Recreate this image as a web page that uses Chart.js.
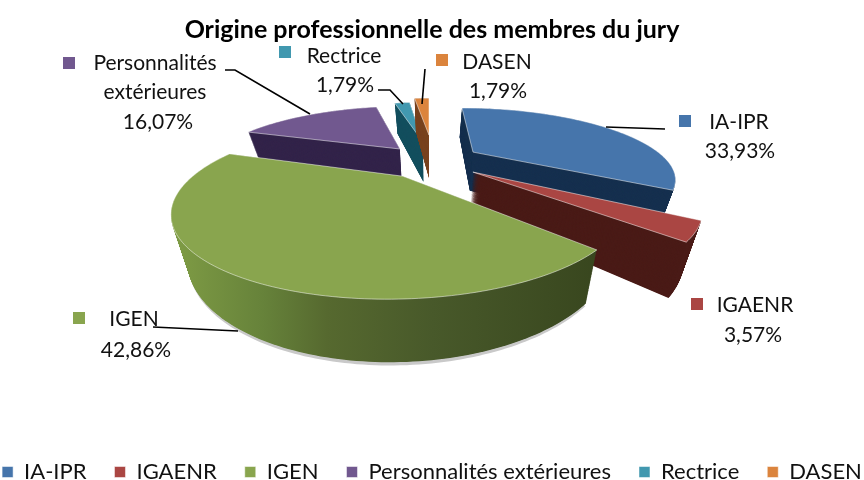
<!DOCTYPE html>
<html><head><meta charset="utf-8">
<style>html,body{margin:0;padding:0;background:#fff}#w{width:864px;height:480px}</style>
<script src="https://cdn.jsdelivr.net/npm/chart.js@4"></script></head>
<body><div id="w"><canvas id="c" width="864" height="480"></canvas></div>
<script>
const titleText = "Origine professionnelle des membres du jury";
const categories = ["IA-IPR","IGAENR","IGEN","Personnalités extérieures","Rectrice","DASEN"];
const percents = [33.93,3.57,42.86,16.07,1.79,1.79];
const colors = ["#4675ab","#aa4643","#89a54e","#71588f","#4198af","#db843d"];
const wallColors = ["#16304f","#4a1b17",null,"#33244a","#134f5e","#7a4520"];
const FONT = "Lato";
// camera of the pseudo-3D view (horizon, plane scale, horizontal stretch, wall taper)
const camera = {hx:429, hy:-24, w0:0.0045, wk:0.0019, ux:1.05, taper:0.33};
// explosion of each slice in the plane (in radius units), extrusion depth, paint order (far to near)
const explode = [[0.25,-0.62],[0.224,-0.316],[-0.13,-0.26],[-0.168,-0.674],[-0.036,-0.80],[0,-0.94]];
const depths = [0.22,0.21,0.195,0.22,0.24,0.27];
const paintOrder = [3,4,5,0,1,2];
// label layout: marker, text anchor, lines
const labelLayout = [
 {m:[685,121],x:[739,740],y:[122,151]},
 {m:[697,304],x:[755,753],y:[305,335]},
 {m:[79,318],x:[134,136],y:[319,350]},
 {m:[69,63],x:[155,155,158],y:[63,92,122],split:true},
 {m:[285,52],x:[344,345],y:[56,85]},
 {m:[442,60],x:[497,498],y:[62,91]}
];
const leaders = [
 [[665,129],[606,127]],
 [[153,327],[238,331]],
 [[225,70],[235,70],[310,114]],
 [[378,90],[390,90],[403,104]],
 [[425,69],[422,104]]
];
function project(el,px,py,t,i){
  const u=(px-el.x)/el.outerRadius, v=(py-el.y)/el.outerRadius;
  const U=u*camera.ux+explode[i][0], V=v+explode[i][1];
  const h=1/(camera.w0-camera.wk*V);
  return [camera.hx+U*h*(1-camera.taper*t), camera.hy+h*(1+t)];
}
function projected(ctx,el,i,t,paint){
  let started=false;
  const put=(x,y)=>{const p=project(el,x,y,t,i); if(started)ctx.lineTo(p[0],p[1]); else{ctx.moveTo(p[0],p[1]);started=true;}};
  const over={
    beginPath(){ctx.beginPath();started=false;},
    moveTo(x,y){started=false;put(x,y);},
    lineTo(x,y){put(x,y);},
    arc(x,y,r,a0,a1,ccw){
      const d=(ccw?-1:1)*Math.abs(a1-a0), n=Math.max(1,Math.ceil(Math.abs(d)/0.02));
      for(let k=0;k<=n;k++){const a=a0+d*k/n; put(x+r*Math.cos(a),y+r*Math.sin(a));}
    },
    stroke(){ if(!paint) ctx.stroke(); }
  };
  return new Proxy(ctx,{
    get(o,k){ if(k in over) return over[k]; const v=o[k]; return typeof v==='function'?v.bind(o):v; },
    set(o,k,v){ if(paint&&k==='fillStyle') v=paint; o[k]=v; return true; }
  });
}
const pie3d={id:'pie3d',
  afterInit(chart){
    const lg=chart.legend, fit=lg._fitRows, drw=lg._draw;
    lg._fitRows=function(a,b,c,d){const m=this.maxWidth;this.maxWidth=m+60;const r=fit.call(this,a,b,c,d);this.maxWidth=m;return r;};
    lg._draw=function(){const l=this.left,r=this.right,tp=this.top;this.left=l-60;this.right=r+60;this.top=tp+13;drw.call(this);this.left=l;this.right=r;this.top=tp;};
  },
  beforeDatasetsDraw(chart){
    const ctx=chart.ctx, arcs=chart.getDatasetMeta(0).data;
    const grad=ctx.createLinearGradient(180,0,600,0);
    grad.addColorStop(0,"#7d9a44");grad.addColorStop(0.2,"#66823a");grad.addColorStop(0.35,"#56692f");grad.addColorStop(0.6,"#48592a");grad.addColorStop(1,"#38461e");
    for(const i of paintOrder){
      const el=arcs[i], wall=wallColors[i]||grad;
      if(i===2){el.draw(projected(ctx,el,i,depths[i]+0.01,"#c9c9c9"));}
      for(let t=depths[i];t>0;t-=0.002){ el.draw(projected(ctx,el,i,t,wall)); }
      el.draw(projected(ctx,el,i,0,null));
    }
    return false;
  },
  afterDraw(chart){
    const ctx=chart.ctx; ctx.save();
    ctx.strokeStyle="#000";ctx.lineWidth=1.6;
    for(const l of leaders){ctx.beginPath();l.forEach((p,k)=>k?ctx.lineTo(p[0],p[1]):ctx.moveTo(p[0],p[1]));ctx.stroke();}
    ctx.font="21px "+FONT;ctx.fillStyle="#111";ctx.textAlign="center";ctx.textBaseline="middle";
    categories.forEach((c,i)=>{
      const L=labelLayout[i];
      const lines=(L.split?c.split(" "):[c]).concat(percents[i].toFixed(2).replace(".",",")+"%");
      lines.forEach((s,k)=>ctx.fillText(s,L.x[k],L.y[k]));
      ctx.fillStyle=colors[i];ctx.fillRect(L.m[0]-6,L.m[1]-6,12,12);ctx.fillStyle="#111";
    });
    ctx.restore();
  }
};
new Chart(document.getElementById('c'),{
  type:'pie',
  data:{labels:categories,datasets:[{data:percents,backgroundColor:colors,borderColor:"rgba(255,255,255,0.5)",borderWidth:1}]},
  options:{responsive:false,animation:false,
    layout:{padding:{top:15,bottom:0,left:0,right:0}},
    plugins:{
      title:{display:true,text:titleText,color:"#000",font:{family:FONT,size:25,weight:'bold'},padding:{top:0,bottom:4}},
      legend:{position:'bottom',labels:{color:"#111",font:{family:FONT,size:22},boxWidth:11,boxHeight:11,padding:28}},
      tooltip:{enabled:false}
    }},
  plugins:[pie3d]
});
</script></body></html>
